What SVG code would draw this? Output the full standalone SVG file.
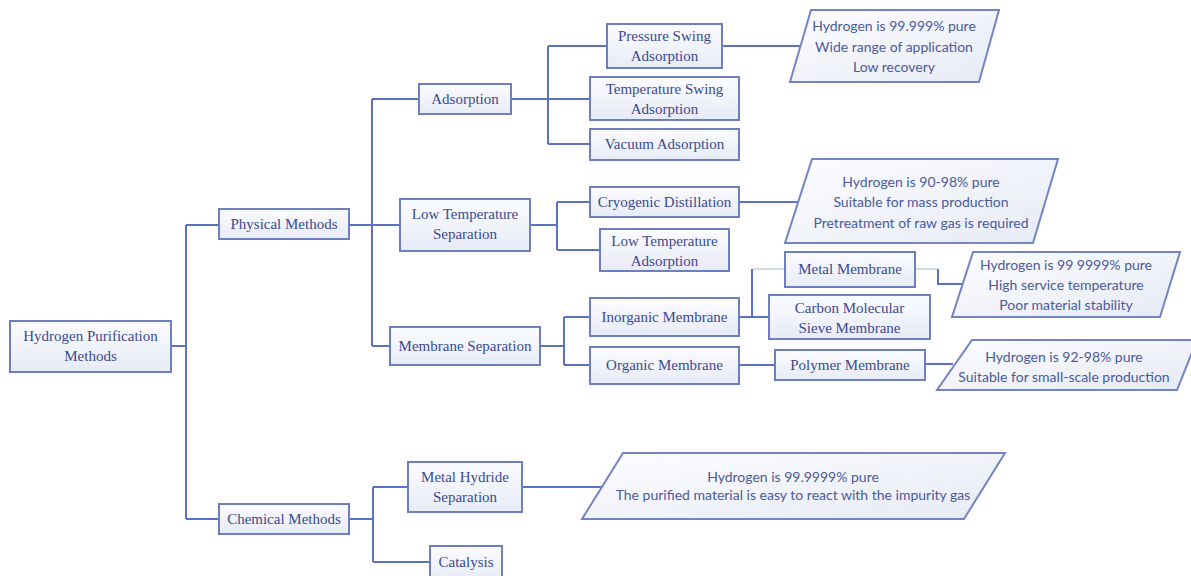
<svg xmlns="http://www.w3.org/2000/svg" width="1191" height="576" viewBox="0 0 1191 576">
  <defs>
    <linearGradient id="boxFill" x1="0" y1="0" x2="0" y2="1">
      <stop offset="0" stop-color="#fbfcff"/>
      <stop offset="1" stop-color="#e7ebf6"/>
    </linearGradient>
    <linearGradient id="noteFill" x1="0" y1="0" x2="1" y2="1">
      <stop offset="0" stop-color="#fdfdff"/>
      <stop offset="1" stop-color="#e6eaf5"/>
    </linearGradient>
    <style>
      .box { fill: url(#boxFill); stroke: #6d7fc0; stroke-width: 2; }
      .note { fill: url(#noteFill); stroke: #7384c2; stroke-width: 2; stroke-linejoin: miter; }
      .lbl { font-family: "Liberation Serif", "Times New Roman", serif; font-size: 15px; fill: #3b4a8e; text-anchor: middle; }
      .ntx { font-family: Lato, "Liberation Sans", sans-serif; font-size: 14px; fill: #4a5a9c; text-anchor: middle; }
      .wire { fill: none; stroke: #5a72c6; stroke-width: 2; }
      .faint { fill: none; stroke: #d4d9e8; stroke-width: 2; }
    </style>
  </defs>
  <rect width="1191" height="576" fill="#ffffff"/>

  <!-- connectors -->
  <g id="connectors">
    <!-- root to the two method families -->
    <path class="wire" d="M171 346 H186 M186 225 V519 M186 225 H219 M186 519 H219"/>
    <!-- physical methods -->
    <path class="wire" d="M349 225 H400 M372 99 V346 M372 99 H419 M372 346 H390"/>
    <!-- adsorption -->
    <path class="wire" d="M511 99 H590 M548 46 V144 M548 46 H607 M548 144 H590"/>
    <path class="wire" d="M722 46 H801"/>
    <!-- low temperature separation -->
    <path class="wire" d="M530 225 H557 M557 202 V250 M557 202 H590 M557 250 H600"/>
    <path class="wire" d="M739 202 H799"/>
    <!-- membrane separation -->
    <path class="wire" d="M540 346 H564 M564 317 V365 M564 317 H590 M564 365 H590"/>
    <path class="wire" d="M739 317 H769 M752 269 V317"/>
    <path class="faint" d="M753 269 H785 M915 269 H937"/>
    <path class="wire" d="M938 269 V284 H962"/>
    <path class="wire" d="M739 365 H775"/>
    <path class="wire" d="M925 364 H953"/>
    <!-- chemical methods -->
    <path class="wire" d="M349 519 H373 M373 487 V562 M373 487 H408 M373 562 H430"/>
    <path class="wire" d="M522 487 H602"/>
  </g>

  <g id="root">
    <rect class="box" x="10" y="321" width="161" height="51"/>
    <text class="lbl" x="90.5" y="341">Hydrogen Purification</text>
    <text class="lbl" x="90.5" y="361">Methods</text>
  </g>

  <g id="physical">
    <rect class="box" x="219" y="209" width="130" height="30"/>
    <text class="lbl" x="284" y="229">Physical Methods</text>
  </g>

  <g id="chemical">
    <rect class="box" x="219" y="504" width="130" height="30"/>
    <text class="lbl" x="284" y="524">Chemical Methods</text>
  </g>

  <g id="adsorption">
    <rect class="box" x="419" y="84" width="92" height="30"/>
    <text class="lbl" x="465" y="104">Adsorption</text>
  </g>

  <g id="low-temp-separation">
    <rect class="box" x="400" y="199" width="130" height="52"/>
    <text class="lbl" x="465" y="219">Low Temperature</text>
    <text class="lbl" x="465" y="239">Separation</text>
  </g>

  <g id="membrane-separation">
    <rect class="box" x="390" y="327" width="150" height="38"/>
    <text class="lbl" x="465" y="351">Membrane Separation</text>
  </g>

  <g id="pressure-swing">
    <rect class="box" x="607" y="24" width="115" height="44"/>
    <text class="lbl" x="664.5" y="41">Pressure Swing</text>
    <text class="lbl" x="664.5" y="61">Adsorption</text>
  </g>

  <g id="temperature-swing">
    <rect class="box" x="590" y="77" width="149" height="43"/>
    <text class="lbl" x="664.5" y="94">Temperature Swing</text>
    <text class="lbl" x="664.5" y="114">Adsorption</text>
  </g>

  <g id="vacuum">
    <rect class="box" x="590" y="129" width="149" height="31"/>
    <text class="lbl" x="664.5" y="149">Vacuum Adsorption</text>
  </g>

  <g id="cryogenic">
    <rect class="box" x="590" y="187" width="149" height="30"/>
    <text class="lbl" x="664.5" y="207">Cryogenic Distillation</text>
  </g>

  <g id="low-temp-adsorption">
    <rect class="box" x="600" y="229" width="129" height="42"/>
    <text class="lbl" x="664.5" y="246">Low Temperature</text>
    <text class="lbl" x="664.5" y="266">Adsorption</text>
  </g>

  <g id="inorganic">
    <rect class="box" x="590" y="298" width="149" height="38"/>
    <text class="lbl" x="664.5" y="322">Inorganic Membrane</text>
  </g>

  <g id="organic">
    <rect class="box" x="590" y="347" width="149" height="37"/>
    <text class="lbl" x="664.5" y="370">Organic Membrane</text>
  </g>

  <g id="metal-membrane">
    <rect class="box" x="785" y="252" width="130" height="35"/>
    <text class="lbl" x="850" y="274">Metal Membrane</text>
  </g>

  <g id="carbon-sieve">
    <rect class="box" x="769" y="295" width="161" height="44"/>
    <text class="lbl" x="849.5" y="313">Carbon Molecular</text>
    <text class="lbl" x="849.5" y="333">Sieve Membrane</text>
  </g>

  <g id="polymer">
    <rect class="box" x="775" y="350" width="150" height="30"/>
    <text class="lbl" x="850" y="370">Polymer Membrane</text>
  </g>

  <g id="metal-hydride">
    <rect class="box" x="408" y="462" width="114" height="50"/>
    <text class="lbl" x="465" y="482">Metal Hydride</text>
    <text class="lbl" x="465" y="502">Separation</text>
  </g>

  <g id="catalysis">
    <rect class="box" x="430" y="546" width="72" height="34"/>
    <text class="lbl" x="466" y="567">Catalysis</text>
  </g>

  <!-- property notes -->
  <g id="note-psa">
    <polygon class="note" points="811,10 999,10 979,82 790,82"/>
    <text class="ntx" x="894" y="31">Hydrogen is 99.999% pure</text>
    <text class="ntx" x="894" y="52">Wide range of application</text>
    <text class="ntx" x="894" y="72">Low recovery</text>
  </g>

  <g id="note-cryogenic">
    <polygon class="note" points="812,159 1058,159 1033,243 785,243"/>
    <text class="ntx" x="921" y="187">Hydrogen is 90-98% pure</text>
    <text class="ntx" x="921" y="207">Suitable for mass production</text>
    <text class="ntx" x="921" y="228">Pretreatment of raw gas is required</text>
  </g>

  <g id="note-metal-membrane">
    <polygon class="note" points="973,252 1180,252 1160,317 952,317"/>
    <text class="ntx" x="1066" y="270">Hydrogen is 99 9999% pure</text>
    <text class="ntx" x="1066" y="290">High service temperature</text>
    <text class="ntx" x="1066" y="310">Poor material stability</text>
  </g>

  <g id="note-polymer">
    <polygon class="note" points="972,340 1197,340 1177,390 937,390"/>
    <text class="ntx" x="1064" y="362">Hydrogen is 92-98% pure</text>
    <text class="ntx" x="1064" y="382">Suitable for small-scale production</text>
  </g>

  <g id="note-metal-hydride">
    <polygon class="note" points="623,453 1005,453 964,519 582,519"/>
    <text class="ntx" x="793" y="482">Hydrogen is 99.9999% pure</text>
    <text class="ntx" x="793" y="500">The purified material is easy to react with the impurity gas</text>
  </g>
</svg>
